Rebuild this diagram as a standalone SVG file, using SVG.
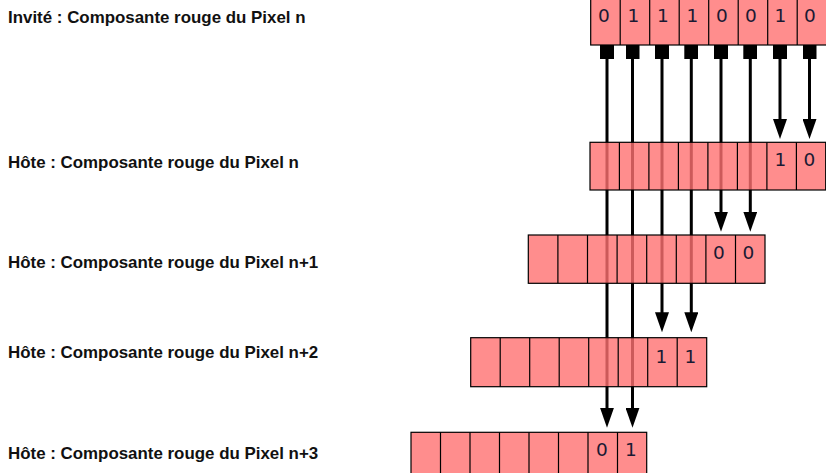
<svg xmlns="http://www.w3.org/2000/svg" width="826" height="473" viewBox="0 0 826 473">
<style>
.lbl{font-family:"Liberation Sans",Arial,sans-serif;font-weight:bold;font-size:16.9px;fill:#111}
.row{fill:#ff7070;fill-opacity:0.8;stroke:#000;stroke-width:1.2}
.div{stroke:#000;stroke-width:1.2}
.dig{font-family:"DejaVu Sans",sans-serif;font-size:18.5px;fill:#1a1a33;text-anchor:middle}
.wire{stroke:#000;stroke-width:3;fill:none}
</style>
<defs>
<marker id="sq" viewBox="0 0 14 14" refX="7" refY="7" markerWidth="14" markerHeight="14" markerUnits="userSpaceOnUse" orient="auto">
<rect x="0" y="0" width="14" height="14" fill="#000"/>
</marker>
<marker id="arr" viewBox="0 0 20 14" refX="14" refY="7" markerWidth="20" markerHeight="14" markerUnits="userSpaceOnUse" orient="auto">
<path d="M0,0 L20,7 L0,14 Z" fill="#000"/>
</marker>
</defs>
<g id="connectors">
<line class="wire" x1="607" y1="52" x2="607" y2="421.7" marker-start="url(#sq)" marker-end="url(#arr)"/>
<line class="wire" x1="632.5" y1="52" x2="632.5" y2="421.7" marker-start="url(#sq)" marker-end="url(#arr)"/>
<line class="wire" x1="662" y1="52" x2="662" y2="326.3" marker-start="url(#sq)" marker-end="url(#arr)"/>
<line class="wire" x1="691.3" y1="52" x2="691.3" y2="326.3" marker-start="url(#sq)" marker-end="url(#arr)"/>
<line class="wire" x1="721" y1="52" x2="721" y2="225.7" marker-start="url(#sq)" marker-end="url(#arr)"/>
<line class="wire" x1="750.3" y1="52" x2="750.3" y2="225.7" marker-start="url(#sq)" marker-end="url(#arr)"/>
<line class="wire" x1="780" y1="52" x2="780" y2="133" marker-start="url(#sq)" marker-end="url(#arr)"/>
<line class="wire" x1="809.5" y1="52" x2="809.5" y2="133" marker-start="url(#sq)" marker-end="url(#arr)"/>
</g>
<g id="guest-row">
<rect class="row" x="590.7" y="-3" width="236" height="48"/>
<path class="div" d="M620.2,-3V45M649.7,-3V45M679.2,-3V45M708.7,-3V45M738.2,-3V45M767.7,-3V45M797.2,-3V45"/>
<text class="dig" x="604" y="21.5">0</text>
<text class="dig" x="633.5" y="21.5">1</text>
<text class="dig" x="663" y="21.5">1</text>
<text class="dig" x="692.5" y="21.5">1</text>
<text class="dig" x="722" y="21.5">0</text>
<text class="dig" x="751" y="21.5">0</text>
<text class="dig" x="780.5" y="21.5">1</text>
<text class="dig" x="810" y="21.5">0</text>
</g>
<g id="host-row-n">
<rect class="row" x="590" y="142.3" width="235.7" height="47.7"/>
<path class="div" d="M619.4,142.3V190M648.9,142.3V190M678.4,142.3V190M707.9,142.3V190M737.4,142.3V190M766.9,142.3V190M796.4,142.3V190"/>
<text class="dig" x="780.5" y="165.7">1</text>
<text class="dig" x="809.5" y="165.7">0</text>
</g>
<g id="host-row-n1">
<rect class="row" x="528.3" y="235" width="236.7" height="48.3"/>
<path class="div" d="M557.9,235V283.3M587.5,235V283.3M617.1,235V283.3M646.7,235V283.3M676.3,235V283.3M705.9,235V283.3M735.5,235V283.3"/>
<text class="dig" x="719" y="259">0</text>
<text class="dig" x="748.5" y="259">0</text>
</g>
<g id="host-row-n2">
<rect class="row" x="470.7" y="337.7" width="236" height="49"/>
<path class="div" d="M500.2,337.7V386.7M529.7,337.7V386.7M559.2,337.7V386.7M588.7,337.7V386.7M618.2,337.7V386.7M647.7,337.7V386.7M677.2,337.7V386.7"/>
<text class="dig" x="661.5" y="362.7">1</text>
<text class="dig" x="690.5" y="362.7">1</text>
</g>
<g id="host-row-n3">
<rect class="row" x="411" y="432.3" width="235.7" height="48"/>
<path class="div" d="M440.5,432.3V480M470,432.3V480M499.5,432.3V480M529,432.3V480M558.5,432.3V480M588,432.3V480M617.5,432.3V480"/>
<text class="dig" x="602" y="455.7">0</text>
<text class="dig" x="631" y="455.7">1</text>
</g>
<g id="label-guest"><text class="lbl" x="8" y="22.5">Invité : Composante rouge du Pixel n</text></g>
<g id="label-host-n"><text class="lbl" x="8" y="168.3">Hôte : Composante rouge du Pixel n</text></g>
<g id="label-host-n1"><text class="lbl" x="8" y="268">Hôte : Composante rouge du Pixel n+1</text></g>
<g id="label-host-n2"><text class="lbl" x="8" y="358">Hôte : Composante rouge du Pixel n+2</text></g>
<g id="label-host-n3"><text class="lbl" x="8" y="459.3">Hôte : Composante rouge du Pixel n+3</text></g>
</svg>
